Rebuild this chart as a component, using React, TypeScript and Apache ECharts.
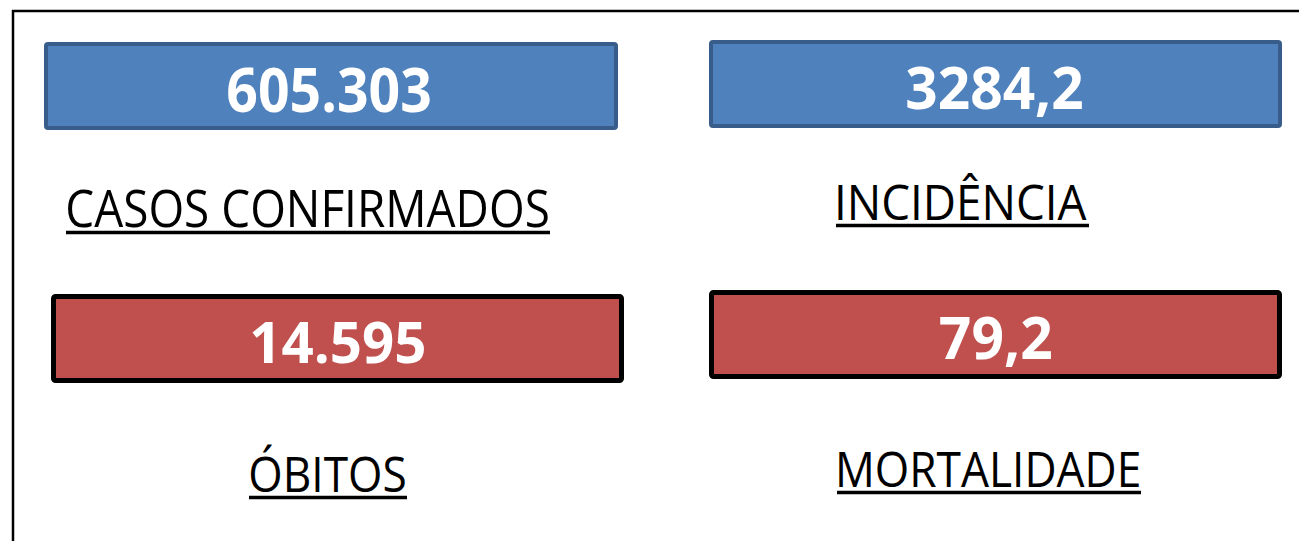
import React, { useEffect, useRef } from "react";
import * as echarts from "echarts";

// ---- data ----
const indicatorLabels = ["CASOS CONFIRMADOS", "INCIDÊNCIA", "ÓBITOS", "MORTALIDADE"];
const indicatorValues = [605303, 3284.2, 14595, 79.2];
const indicatorDecimals = [0, 1, 0, 1];
const indicatorGroups = ["casos", "casos", "obitos", "obitos"];

// ---- layout (not data) ----
const BOXES = [
  { x: 44, y: 42, w: 574, h: 88 },
  { x: 709, y: 40, w: 573, h: 88 },
  { x: 51, y: 294, w: 573, h: 89 },
  { x: 709, y: 290, w: 573, h: 89 },
];
// [inkLeft, inkRight, baseline, capHeight]
const VALUE_POS = [
  [228, 430, 112, 44],
  [907, 1082, 109, 42],
  [252, 424, 363, 41],
  [940, 1051, 359, 42],
];
const LABEL_POS = [
  [68, 548, 227, 37],
  [838, 1087, 220, 36],
  [251, 405, 492, 36],
  [839, 1139, 487, 36],
];
const FONT = "Open Sans";
const STYLE: Record<string, { fill: string; stroke: string; lw: number }> = {
  casos: { fill: "#4f81bd", stroke: "#385d8a", lw: 4 },
  obitos: { fill: "#c0504d", stroke: "#000000", lw: 5 },
};

function formatValue(v: number, dec: number): string {
  if (dec > 0) return v.toFixed(dec).replace(".", ",");
  const s = Math.round(v).toString();
  return s.replace(/\B(?=(\d{3})+(?!\d))/g, ".");
}

const ctx = typeof document !== "undefined" ? document.createElement("canvas").getContext("2d") : null;

function fitText(text: string, weight: string, pos: number[], fill: string) {
  const [left, right, baseline, capH] = pos;
  let l = 0, r = 60 * text.length, cap = 0.714, fa = 1.069, fd = 0.293;
  if (ctx) {
    ctx.font = `${weight} 100px "${FONT}"`;
    const m = ctx.measureText(text);
    const h = ctx.measureText("H");
    l = m.actualBoundingBoxLeft;
    r = m.actualBoundingBoxRight;
    cap = h.actualBoundingBoxAscent / 100;
    fa = (m.fontBoundingBoxAscent ?? 106.9) / 100;
    fd = (m.fontBoundingBoxDescent ?? 29.3) / 100;
  }
  const fontSize = capH / cap;
  const k = fontSize / 100;
  const scaleX = (right - left) / ((l + r) * k);
  const x = left + scaleX * l * k;
  const y = baseline - ((fa - fd) / 2) * fontSize;
  return {
    type: "text",
    x,
    y,
    scaleX,
    scaleY: 1,
    silent: true,
    style: {
      text,
      fontFamily: FONT,
      fontSize,
      fontWeight: weight,
      fill,
      align: "left",
      verticalAlign: "middle",
      textAlign: "left",
      textVerticalAlign: "middle",
    },
  };
}

export default function App() {
  const ref = useRef<HTMLDivElement>(null);
  useEffect(() => {
    if (!ref.current) return;
    const chart = echarts.init(ref.current, null, { renderer: "svg" });
    const elements: any[] = [];
    // outer frame
    elements.push({ type: "line", shape: { x1: 12, y1: 11, x2: 1299, y2: 11 }, style: { stroke: "#000", lineWidth: 2.5 } });
    elements.push({ type: "line", shape: { x1: 13, y1: 10, x2: 13, y2: 541 }, style: { stroke: "#000", lineWidth: 2.5 } });
    indicatorLabels.forEach((label, i) => {
      const b = BOXES[i];
      const st = STYLE[indicatorGroups[i]];
      elements.push({
        type: "rect",
        shape: { x: b.x + st.lw / 2, y: b.y + st.lw / 2, width: b.w - st.lw, height: b.h - st.lw, r: 2 },
        style: { fill: st.fill, stroke: st.stroke, lineWidth: st.lw },
      });
      elements.push(fitText(formatValue(indicatorValues[i], indicatorDecimals[i]), "bold", VALUE_POS[i], "#ffffff"));
      const lp = LABEL_POS[i];
      elements.push(fitText(label, "normal", lp, "#000000"));
      elements.push({
        type: "line",
        shape: { x1: lp[0] - 2, y1: lp[2] + 5.5, x2: lp[1] + 2, y2: lp[2] + 5.5 },
        style: { stroke: "#000", lineWidth: 3.5 },
      });
    });
    chart.setOption({ animation: false, backgroundColor: "#ffffff", graphic: { elements } });
    return () => chart.dispose();
  }, []);
  return <div ref={ref} style={{ position: "fixed", left: 0, top: 0, width: 1299, height: 541 }} />;
}
